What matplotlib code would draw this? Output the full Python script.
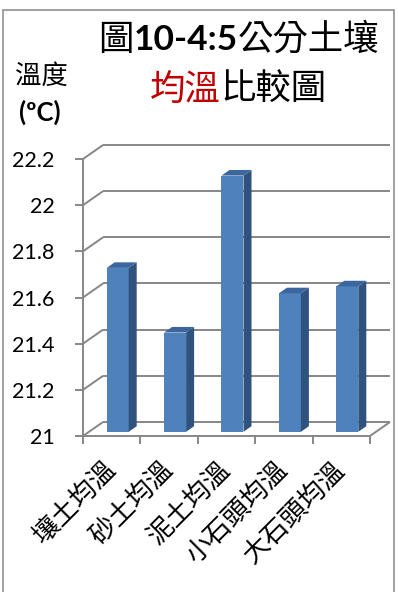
import matplotlib
matplotlib.use("Agg")
import matplotlib.pyplot as plt
from matplotlib.patches import Polygon, Rectangle
import numpy as np

# ---- data -------------------------------------------------------------
categories = ["壤土均溫", "砂土均溫", "泥土均溫", "小石頭均溫", "大石頭均溫"]
temps = [21.71, 21.43, 22.11, 21.60, 21.63]
y_ticks = [21, 21.2, 21.4, 21.6, 21.8, 22, 22.2]
y_tick_labels = ["21", "21.2", "21.4", "21.6", "21.8", "22", "22.2"]
title_line1 = ["圖", "10-4:5", "公分土壤"]
title_line2 = ["均溫", "比較圖"]
y_title = ["溫度", "(ºC)"]

# ---- style ------------------------------------------------------------
W, H, DPI = 398, 592, 100
CJK = "Noto Sans CJK TC"
LAT = "Lato"
GRID = "#868686"
FRONT = "#4F81BD"
SIDE = "#30527F"
TOP = "#3C679E"
RED = "#C00000"

fig = plt.figure(figsize=(W / DPI, H / DPI), dpi=DPI)
fig.patch.set_facecolor("white")

# outer chart-area border
fig.add_artist(Rectangle((3 / W, -0.1), 391 / W, 1.1 - 10 / H,
                         transform=fig.transFigure, fill=False,
                         ec=GRID, lw=1.1))

# front plane of the plot
ax_l, ax_r, ax_t, ax_b = 83, 370, 159, 436
ax = fig.add_axes([ax_l / W, (H - ax_b) / H, (ax_r - ax_l) / W, (ax_b - ax_t) / H])
ax.set_xlim(-0.5, 4.5)
ax.set_ylim(21, 22.2)
ax.set_facecolor("none")

# pixel -> data unit factors, used for the depth (oblique) offsets
px_x = 5.0 / (ax_r - ax_l)
px_y = 1.2 / (ax_b - ax_t)
dx_full = 20 * px_x
dy_full = 14 * px_y

line_kw = dict(color=GRID, lw=1.4, clip_on=False, solid_capstyle="butt")

# back wall gridlines + side-wall connectors
for t in y_ticks:
    ax.plot([-0.5 + dx_full, 4.5 + dx_full], [t + dy_full] * 2, zorder=1, **line_kw)
    ax.plot([-0.5, -0.5 + dx_full], [t, t + dy_full], zorder=1, **line_kw)
# floor right edge
ax.plot([4.5, 4.5 + dx_full], [21, 21 + dy_full], zorder=1, **line_kw)

# 3-D columns
f0, f1 = 0.3, 0.7
bw = 22 * px_x
xs = np.arange(len(categories))
vals = np.array(temps)
ax.bar(xs + f0 * dx_full, vals - 21, width=bw, bottom=21 + f0 * dy_full,
       color=FRONT, zorder=3, clip_on=False, linewidth=0)
ddx = (f1 - f0) * dx_full
ddy = (f1 - f0) * dy_full
for x, v in zip(xs, vals):
    xl = x - bw / 2 + f0 * dx_full
    xr = x + bw / 2 + f0 * dx_full
    yb = 21 + f0 * dy_full
    yt = v + f0 * dy_full
    ax.add_patch(Polygon([(xr, yb), (xr, yt), (xr + ddx, yt + ddy), (xr + ddx, yb + ddy)],
                         closed=True, fc=SIDE, ec="none", zorder=3, clip_on=False))
    ax.add_patch(Polygon([(xl, yt), (xr, yt), (xr + ddx, yt + ddy), (xl + ddx, yt + ddy)],
                         closed=True, fc=TOP, ec="none", zorder=3, clip_on=False))

# axes spines & ticks
for s in ("top", "right"):
    ax.spines[s].set_visible(False)
for s in ("left", "bottom"):
    ax.spines[s].set_color(GRID)
    ax.spines[s].set_linewidth(1.4)
    ax.spines[s].set_zorder(2)

ax.set_yticks(y_ticks, y_tick_labels, fontfamily=LAT, fontsize=15.5)
ax.tick_params(axis="y", length=5.8, width=1.4, color=GRID, pad=14.5)

ax.set_xticks(xs, categories, rotation=45, ha="right", va="center",
              rotation_mode="anchor", fontfamily=CJK, fontsize=19)
ax.set_xticks(np.arange(-0.5, 5, 1.0), minor=True)
ax.tick_params(axis="x", which="major", length=0, pad=21.5)
ax.tick_params(axis="x", which="minor", length=5.8, width=1.4, color=GRID)

# ---- titles -------------------------------------------------------------
renderer = fig.canvas.get_renderer()


def runs(parts, cx, baseline):
    """Place styled text runs side by side, centred on cx (pixels)."""
    texts = []
    for s, kw in parts:
        texts.append(fig.text(0, 1 - baseline / H, s, va="baseline", ha="left", **kw))
    widths = [t.get_window_extent(renderer).width for t in texts]
    x = cx - sum(widths) / 2
    for t, w in zip(texts, widths):
        t.set_x(x / W)
        x += w


cjk_kw = dict(fontfamily=CJK, fontsize=25.5, color="black")
runs([(title_line1[0], cjk_kw),
      (title_line1[1], dict(fontfamily=LAT, fontsize=25.5, fontweight="bold", color="black")),
      (title_line1[2], cjk_kw)], 239, 50)
runs([(title_line2[0], dict(fontfamily=CJK, fontsize=25.5, color=RED)),
      (title_line2[1], cjk_kw)], 238, 100)

fig.text(41.5 / W, 1 - 76 / H, y_title[0], ha="center", va="center",
         fontfamily=CJK, fontsize=19)
fig.text(40 / W, 1 - 112 / H, y_title[1], ha="center", va="center",
         fontfamily=LAT, fontsize=18.5, fontweight="bold")

fig.savefig("out.png", dpi=DPI)
